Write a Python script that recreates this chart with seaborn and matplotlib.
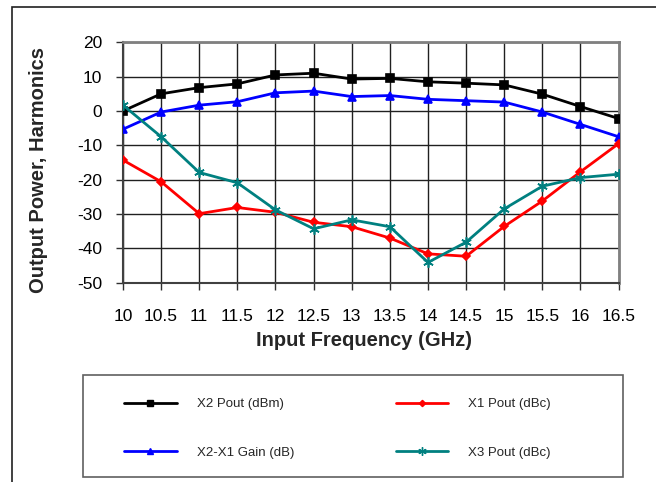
import matplotlib
matplotlib.use("Agg")
import matplotlib.pyplot as plt
import seaborn as sns
import pandas as pd
from matplotlib.patches import Rectangle
from matplotlib.lines import Line2D

freq = [10, 10.5, 11, 11.5, 12, 12.5, 13, 13.5, 14, 14.5, 15, 15.5, 16, 16.5]
x2_pout = [0.0, 5.0, 6.8, 7.9, 10.5, 11.0, 9.3, 9.5, 8.5, 8.1, 7.6, 4.9, 1.3, -2.2]
x1_pout = [-14.3, -20.6, -29.9, -28.1, -29.5, -32.4, -33.7, -37.0, -41.6, -42.3, -33.6, -26.2, -17.7, -9.5]
gain = [-5.3, -0.3, 1.7, 2.7, 5.3, 5.8, 4.2, 4.5, 3.4, 3.0, 2.6, -0.3, -3.9, -7.5]
x3_pout = [1.7, -7.5, -17.9, -20.9, -28.8, -34.3, -31.7, -33.7, -44.1, -38.2, -28.5, -21.9, -19.4, -18.4]
xticks = [10, 10.5, 11, 11.5, 12, 12.5, 13, 13.5, 14, 14.5, 15, 15.5, 16, 16.5]
xticklabels = ["10", "10.5", "11", "11.5", "12", "12.5", "13", "13.5", "14", "14.5", "15", "15.5", "16", "16.5"]
yticks = [-50, -40, -30, -20, -10, 0, 10, 20]

series = [
    ("X2 Pout (dBm)", x2_pout, "#000000", "s", 6),
    ("X2-X1 Gain (dB)", gain, "#0000FF", "^", 5.5),
    ("X1 Pout (dBc)", x1_pout, "#FF0000", "D", 4),
    ("X3 Pout (dBc)", x3_pout, "#008080", (6, 2, 0), 7.5),
]

sns.set_theme(style="white")
plt.rcParams["font.family"] = ["Liberation Sans", "DejaVu Sans"]
plt.rcParams["axes.unicode_minus"] = False

fig = plt.figure(figsize=(6.56, 4.82), dpi=100)
ax = fig.add_axes([0.1875, 0.4135, 0.7555, 0.4987])

handles = []
for name, vals, col, mk, ms in series:
    df = pd.DataFrame({"f": freq, "v": vals})
    sns.lineplot(data=df, x="f", y="v", ax=ax, color=col, marker=mk, markersize=ms,
                 markeredgecolor=col, markerfacecolor=col, markeredgewidth=1.2,
                 linewidth=2, legend=False, zorder=3)
    handles.append(Line2D([], [], color=col, marker=mk, markersize=ms * 0.8,
                          markerfacecolor=col, markeredgecolor=col, linewidth=2, label=name))

ax.set_xlim(10, 16.5)
ax.set_ylim(-50, 20)
ax.set_xticks(xticks)
ax.set_xticklabels(xticklabels)
ax.set_yticks(yticks)
ax.grid(True, color="#202020", linewidth=1)
ax.set_axisbelow(True)
ax.tick_params(axis="both", which="both", direction="out", length=5, width=1,
               color="#303030", labelsize=12.5, labelcolor="#000000", bottom=True, left=True)
ax.tick_params(axis="x", pad=14)
ax.tick_params(axis="y", pad=10)
for s in ["top", "right"]:
    ax.spines[s].set_color("#808080")
    ax.spines[s].set_linewidth(2)
for s in ["left", "bottom"]:
    ax.spines[s].set_color("#404040")
    ax.spines[s].set_linewidth(1.5)

ax.set_xlabel("Input Frequency (GHz)", fontsize=14.5, fontweight="bold")
ax.set_ylabel("Output Power, Harmonics", fontsize=14.5, fontweight="bold")
ax.xaxis.set_label_coords(364 / 656, 1 - 340 / 482, transform=fig.transFigure)
ax.yaxis.set_label_coords(39 / 656, 1 - 170 / 482, transform=fig.transFigure)
ax.xaxis.label.set_va("center")
ax.yaxis.label.set_va("center")

# Outer chart frame
fig.patches.append(Rectangle((12 / 656, -0.05), 1.2, 1 - 7 / 482 + 0.05, transform=fig.transFigure,
                             fill=False, edgecolor="#202020", linewidth=1.2))
# Legend frame
fig.patches.append(Rectangle((83 / 656, 1 - 477 / 482), (623 - 83) / 656, (477 - 375) / 482,
                             transform=fig.transFigure, fill=False, edgecolor="#606060", linewidth=1.2))

leg = fig.legend(handles=handles, ncol=2, loc="upper left", bbox_to_anchor=(124 / 656, 1 - 398 / 482),
                 frameon=False, fontsize=9.5, handlelength=4.0, handletextpad=1.5,
                 columnspacing=7.7, labelspacing=2.75, borderpad=0, borderaxespad=0)

fig.savefig("out.png", dpi=100)
